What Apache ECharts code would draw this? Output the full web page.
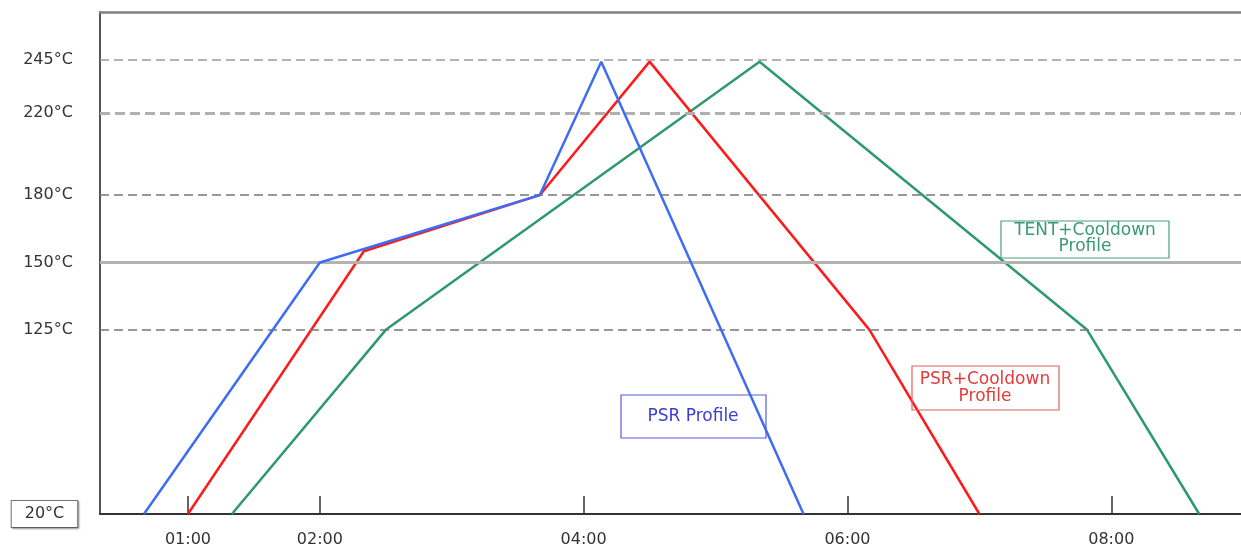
<!DOCTYPE html>
<html>
<head>
<meta charset="utf-8">
<script src="https://cdn.jsdelivr.net/npm/echarts@6/dist/echarts.min.js"></script>
<style>
html,body{margin:0;padding:0;background:#fff;}
#chart{width:1241px;height:548px;}
</style>
</head>
<body>
<div id="chart"></div>
<script>
// ---- data ----
const TIME_TICKS = ['01:00', '02:00', '04:00', '06:00', '08:00'];
const TEMP_TICKS = [20, 125, 150, 180, 220, 245];

const PSR_TIME = ['00:40', '02:00', '03:40', '04:08', '05:40'];
const PSR_TEMP = [20, 150, 180, 244, 20];

const PSR_COOL_TIME = ['01:00', '02:20', '03:40', '04:30', '06:10', '07:00'];
const PSR_COOL_TEMP = [20, 155, 180, 244, 125, 20];

const TENT_TIME = ['01:20', '02:30', '05:20', '07:49', '08:40'];
const TENT_TEMP = [20, 125, 244, 125, 20];

const LABELS = ['PSR Profile', 'PSR+Cooldown\nProfile', 'TENT+Cooldown\nProfile'];

// ---- non-linear temperature scale of the original (axis units per tick) ----
const SCALE_U = [0, 186, 254, 322, 405, 459];
const Y_MAX_U = 507;
function toU(t) {
  const k = TEMP_TICKS;
  let i = 0;
  while (i < k.length - 2 && t > k[i + 1]) i++;
  return SCALE_U[i] + (t - k[i]) * (SCALE_U[i + 1] - SCALE_U[i]) / (k[i + 1] - k[i]);
}
function toMin(s) { const p = s.split(':'); return (+p[0]) * 60 + (+p[1]); }
function fmtMin(m) {
  const h = Math.floor(m / 60), mm = Math.round(m % 60);
  return (h < 10 ? '0' : '') + h + ':' + (mm < 10 ? '0' : '') + mm;
}
function pts(times, temps) { return times.map((t, i) => [toMin(t), toU(temps[i])]); }

const FONT = 'DejaVu Sans';
const chart = echarts.init(document.getElementById('chart'), null, {renderer: 'canvas'});

const tempLabelU = TEMP_TICKS.map(toU);

const dashStyle = (u, color, width, type) => ({
  yAxis: u, lineStyle: {color: color, width: width, type: type}
});

const option = {
  animation: false,
  backgroundColor: '#ffffff',
  grid: {left: 100, right: 0, top: 12, bottom: 29, containLabel: false},
  xAxis: [{
    type: 'value', min: 20, max: 539,
    axisLine: {show: true, lineStyle: {color: '#333', width: 2}},
    axisTick: {show: true, inside: true, length: 18, customValues: TIME_TICKS.map(toMin),
      lineStyle: {color: '#333', width: 1.5}},
    axisLabel: {show: true, customValues: TIME_TICKS.map(toMin), margin: 18,
      formatter: v => fmtMin(v), color: '#333', fontFamily: FONT, fontSize: 16},
    splitLine: {show: false}
  }, {
    type: 'value', min: 20, max: 539, position: 'top',
    axisLine: {show: true, onZero: false, lineStyle: {color: '#808080', width: 2.5}},
    axisTick: {show: false}, axisLabel: {show: false}, splitLine: {show: false}
  }],
  yAxis: {
    type: 'value', min: 0, max: Y_MAX_U,
    axisLine: {show: true, lineStyle: {color: '#555', width: 2}},
    axisTick: {show: false},
    splitLine: {show: false},
    axisLabel: {
      show: true, customValues: tempLabelU, align: 'center', margin: 52,
      color: '#333', fontFamily: FONT, fontSize: 16,
      formatter: v => {
        const i = tempLabelU.findIndex(u => Math.abs(u - v) < 0.5);
        if (i < 0) return '';
        const s = TEMP_TICKS[i] + '°C';
        return i === 0 ? '{box|' + s + '}{sp|}' : s;
      },
      rich: {
        box: {
          fontFamily: FONT, fontSize: 16, color: '#333',
          borderColor: '#777', borderWidth: 1, backgroundColor: '#fff',
          padding: [5, 13, 5, 13],
          shadowColor: 'rgba(0,0,0,0.35)', shadowBlur: 2, shadowOffsetX: 1, shadowOffsetY: 1
        },
        sp: {width: 7}
      }
    }
  },
  series: [{
    type: 'line', data: [], z: 1, silent: true,
    markLine: {
      silent: true, symbol: ['none', 'none'], label: {show: false},
      data: [
        dashStyle(toU(245), '#999', 1.5, [9, 5]),
        dashStyle(toU(220), '#b0b0b0', 3, [10, 5]),
        dashStyle(toU(180), '#777', 1.5, [9, 5]),
        dashStyle(toU(150), '#b3b3b3', 3, 'solid'),
        dashStyle(toU(125), '#777', 1.5, [9, 5])
      ]
    }
  }, {
    name: LABELS[2], type: 'line', z: 3, showSymbol: false, symbol: 'none',
    data: pts(TENT_TIME, TENT_TEMP),
    lineStyle: {color: '#2e9a6c', width: 2.5}
  }, {
    name: LABELS[1], type: 'line', z: 4, showSymbol: false, symbol: 'none',
    data: pts(PSR_COOL_TIME, PSR_COOL_TEMP),
    lineStyle: {color: '#ff1a1a', width: 2.5}
  }, {
    name: LABELS[0], type: 'line', z: 5, showSymbol: false, symbol: 'none',
    data: pts(PSR_TIME, PSR_TEMP),
    lineStyle: {color: '#3d6cf5', width: 2.5}
  }],
  graphic: [
    {type: 'rect', shape: {x: 621, y: 395, width: 145, height: 43}, z: 10,
      style: {fill: 'rgba(255,255,255,0)', stroke: '#5a5ae0', lineWidth: 1.2}},
    {type: 'text', x: 693, y: 417, z: 11,
      style: {text: LABELS[0], fill: '#3b3bd6', font: '17px "DejaVu Sans"', align: 'center', verticalAlign: 'middle'}},
    {type: 'rect', shape: {x: 912, y: 366, width: 147, height: 44}, z: 10,
      style: {fill: 'rgba(255,255,255,0)', stroke: '#e06060', lineWidth: 1.2}},
    {type: 'text', x: 985, y: 388, z: 11,
      style: {text: LABELS[1], fill: '#e53a3a', font: '17px "DejaVu Sans"', lineHeight: 17, align: 'center', verticalAlign: 'middle'}},
    {type: 'rect', shape: {x: 1001, y: 221, width: 168, height: 37}, z: 10,
      style: {fill: 'rgba(255,255,255,0)', stroke: '#4aa07a', lineWidth: 1.2}},
    {type: 'text', x: 1085, y: 239, z: 11,
      style: {text: LABELS[2], fill: '#3a9a70', font: '17px "DejaVu Sans"', lineHeight: 16, align: 'center', verticalAlign: 'middle'}}
  ]
};
chart.setOption(option);
</script>
</body>
</html>
